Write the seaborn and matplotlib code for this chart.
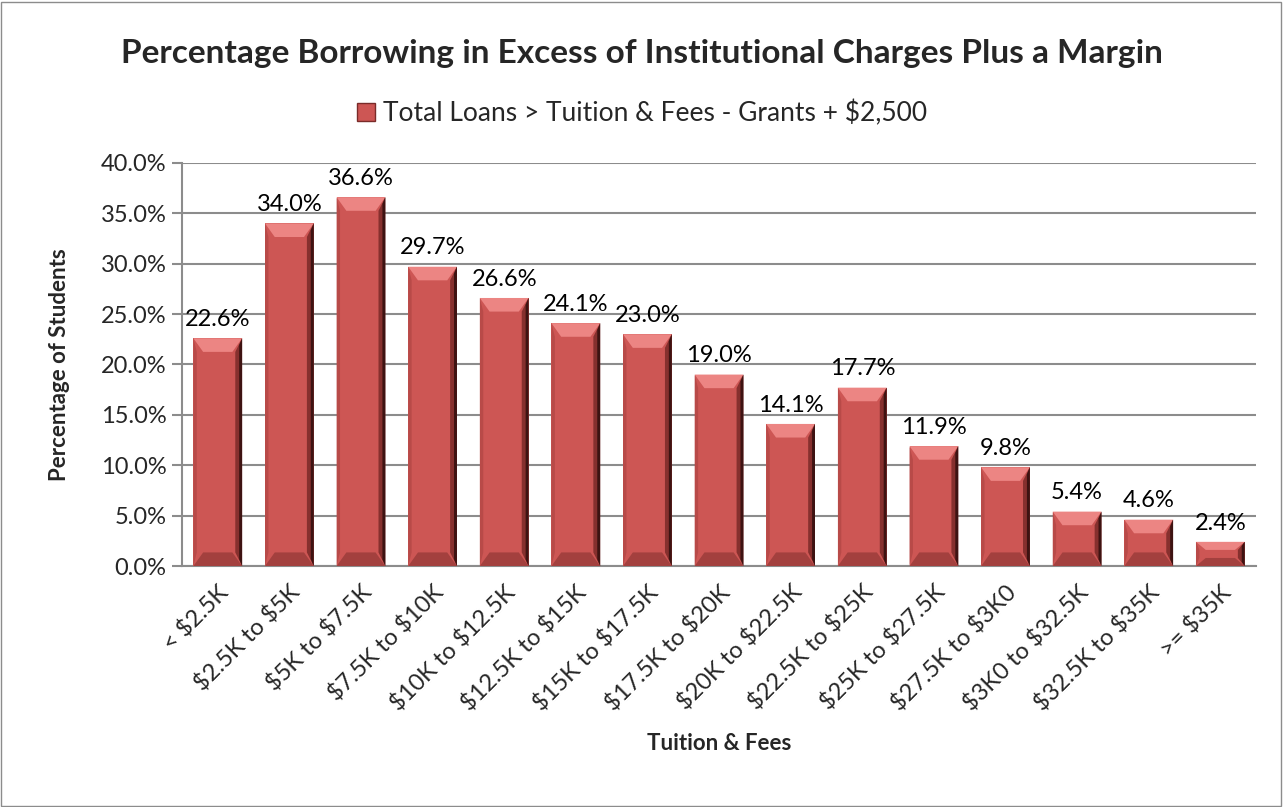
import seaborn as sns
import matplotlib.pyplot as plt
import matplotlib.patches as mpatches
import pandas as pd
import numpy as np

# data
categories = ['< $2.5K', '$2.5K to $5K', '$5K to $7.5K', '$7.5K to $10K', '$10K to $12.5K',
              '$12.5K to $15K', '$15K to $17.5K', '$17.5K to $20K', '$20K to $22.5K',
              '$22.5K to $25K', '$25K to $27.5K', '$27.5K to $3K0', '$3K0 to $32.5K',
              '$32.5K to $35K', '>= $35K']
pct = [22.6, 34.0, 36.6, 29.7, 26.6, 24.1, 23.0, 19.0, 14.1, 17.7, 11.9, 9.8, 5.4, 4.6, 2.4]
series_name = 'Total Loans > Tuition & Fees - Grants + $2,500'

bar_color = '#CD5654'
grid_color = '#8C8C8C'

sns.set_style('white')
plt.rcParams['font.family'] = ['Lato', 'DejaVu Sans']
plt.rcParams['text.parse_math'] = False

df = pd.DataFrame({'Tuition': categories, 'Pct': pct})

fig = plt.figure(figsize=(12.84, 8.07), dpi=100)
ax = fig.add_axes([0.1417, 0.2986, 0.8366, 0.4995])

sns.barplot(data=df, x='Tuition', y='Pct', color=bar_color, width=0.68,
            linewidth=0, saturation=1, ax=ax, zorder=3)

ax.set_ylim(0, 40)
ax.set_xlim(-0.5, len(categories) - 0.5)

# bevel shading on each bar (Excel style), built from the bar geometry
for p in list(ax.patches):
    x0, w, h = p.get_x(), p.get_width(), p.get_height()
    dy = min(1.35, h / 3)
    dx = w * 0.2
    x1 = x0 + w
    shades = [
        ([(x0, h), (x1, h), (x1 - dx, h - dy), (x0 + dx, h - dy)], '#EC8583'),
        ([(x0, 0), (x1, 0), (x1 - dx, dy), (x0 + dx, dy)], '#A3403E'),
        ([(x1 - w * 0.14, dy), (x1, 0), (x1, h), (x1 - w * 0.14, h - dy)], '#86302E'),
        ([(x1 - w * 0.06, dy * 0.5), (x1, 0), (x1, h), (x1 - w * 0.06, h - dy * 0.5)], '#3E1312'),
        ([(x0, 0), (x0 + w * 0.07, dy), (x0 + w * 0.07, h - dy), (x0, h)], '#B84A48'),
    ]
    for pts, c in shades:
        ax.add_patch(mpatches.Polygon(pts, closed=True, facecolor=c, edgecolor='none', zorder=4))

for p, v in zip(ax.patches, pct):
    ax.annotate(f'{v:.1f}%', (p.get_x() + p.get_width() / 2, p.get_height()),
                xytext=(0, 6), textcoords='offset points', ha='center', va='bottom',
                fontsize=17, color='black')

ax.set_yticks(np.arange(0, 41, 5))
ax.set_yticklabels([f'{t:.1f}%' for t in np.arange(0, 41, 5)], fontsize=17)
ax.yaxis.grid(True, color=grid_color, linewidth=1.5, zorder=0)
ax.set_axisbelow(True)

ax.set_xticks(range(len(categories)))
ax.set_xticklabels(categories, rotation=45, ha='right', rotation_mode='anchor', fontsize=17)
ax.set_xticks(np.arange(-0.5, len(categories), 1), minor=True)
ax.tick_params(axis='x', which='major', length=0, pad=11)
ax.tick_params(axis='x', which='minor', length=8, color=grid_color, width=1.5, direction='out')
ax.tick_params(axis='y', length=7, color=grid_color, width=1.5, direction='out', left=True, pad=4)

for s in ['top', 'right']:
    ax.spines[s].set_visible(False)
for s in ['left', 'bottom']:
    ax.spines[s].set_color(grid_color)
    ax.spines[s].set_linewidth(1.5)

ax.set_xlabel('Tuition & Fees', fontsize=16, fontweight='bold')
ax.xaxis.set_label_coords(0.5, -0.415)
ax.set_ylabel('Percentage of Students', fontsize=16, fontweight='bold')
ax.yaxis.set_label_coords(-0.104, 0.5)

fig.suptitle('Percentage Borrowing in Excess of Institutional Charges Plus a Margin',
             fontsize=24, fontweight='bold', y=0.952)

handle = mpatches.Patch(facecolor=bar_color, edgecolor='#7A2B29', label=series_name)
fig.legend(handles=[handle], loc='center', bbox_to_anchor=(0.5, 0.86), frameon=False,
           fontsize=19, handlelength=0.7, handleheight=0.7, handletextpad=0.3)

fig.patches.append(mpatches.Rectangle((0.001, 0.001), 0.997, 0.997, transform=fig.transFigure,
                                      fill=False, edgecolor='#8C8C8C', linewidth=1))

plt.savefig('out.png', dpi=100)
